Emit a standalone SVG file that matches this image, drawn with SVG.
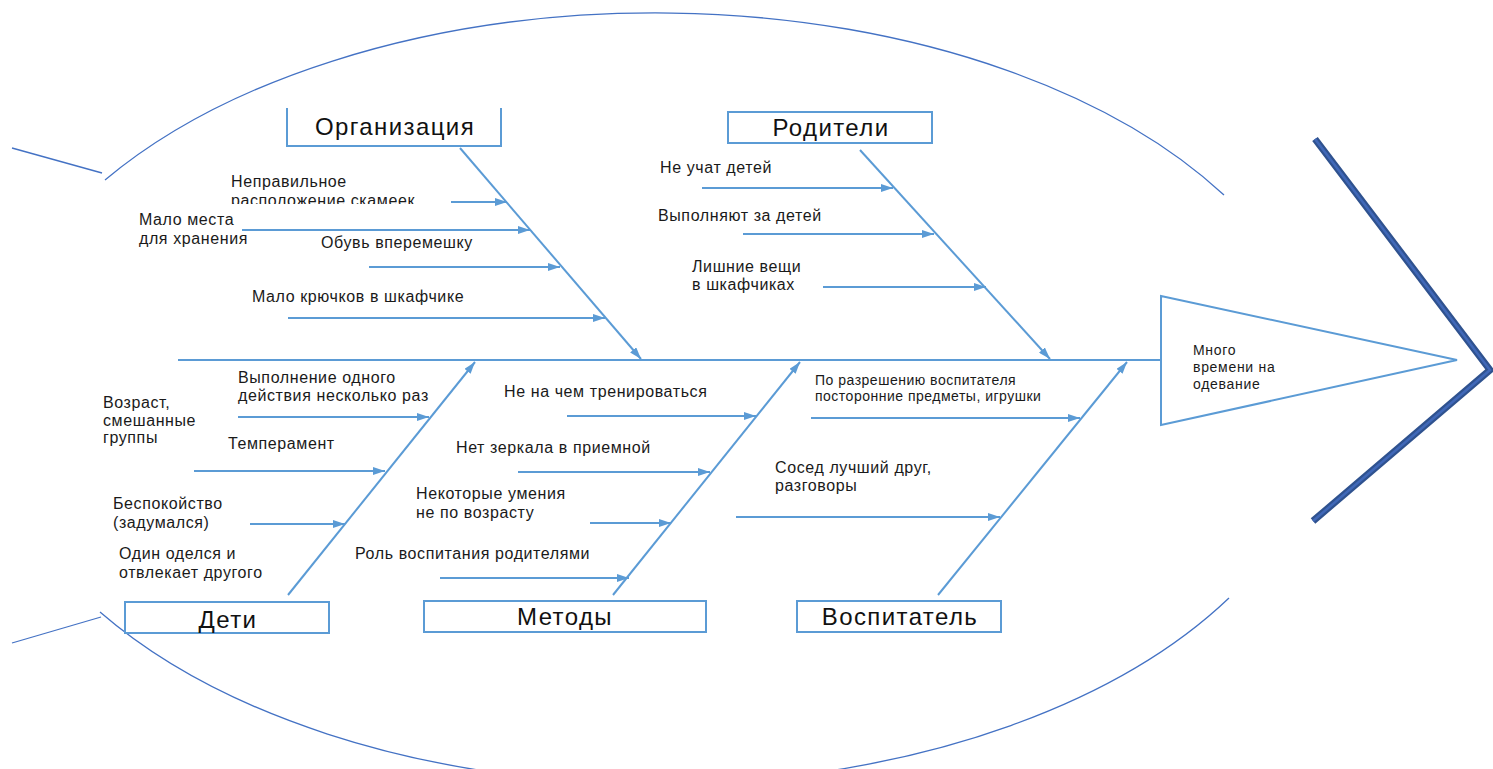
<svg xmlns="http://www.w3.org/2000/svg" width="1493" height="769" viewBox="0 0 1493 769">
<style>
.t{font-family:"Liberation Sans",Arial,sans-serif;font-size:16px;fill:#1a1a1a;letter-spacing:0.6px}
.s{font-size:14px;letter-spacing:0.5px}
.h{font-size:14px;letter-spacing:0.7px}
.c{font-family:"Liberation Sans",Arial,sans-serif;font-size:24px;fill:#111;text-anchor:middle;letter-spacing:1.4px}
.box{fill:#fff;stroke:#5B9BD5;stroke-width:2}
.bone{stroke:#5B9BD5;stroke-width:2;fill:none}
.arr{stroke:#5B9BD5;stroke-width:2;fill:none;marker-end:url(#ah)}
.oval{fill:none;stroke:#4472C4;stroke-width:1.3}
</style>
<defs>
<marker id="ah" viewBox="0 0 12 8" markerWidth="12" markerHeight="8" refX="12" refY="4" orient="auto" markerUnits="userSpaceOnUse">
<path d="M0,0 L12,4 L0,8 z" fill="#5B9BD5"/>
</marker>
<clipPath id="cl1"><rect x="0" y="0" width="700" height="204"/></clipPath>
</defs>

<g id="fish-outline">
<path class="oval" d="M105,180 A669,386 0 0 1 1224,195"/>
<path class="oval" d="M100,612 A669,386 0 0 0 1229,598"/>
<line class="oval" x1="12" y1="148" x2="102" y2="173"/>
<line class="oval" x1="12" y1="643" x2="101" y2="617"/>
</g>

<g id="chevron">
<polyline points="1315,139 1490,370 1313,521" fill="none" stroke="#2F528F" stroke-width="7"/>
<polyline points="1315,139 1490,370 1313,521" fill="none" stroke="#4068B8" stroke-width="2.5"/>
</g>

<g id="connectors">
<line class="bone" x1="178" y1="360" x2="1161" y2="360"/>
<line class="arr" x1="460" y1="148" x2="641" y2="359"/>
<line class="arr" x1="860" y1="150" x2="1050" y2="359"/>
<line class="arr" x1="288" y1="595" x2="475" y2="362"/>
<line class="arr" x1="613" y1="595" x2="800" y2="362"/>
<line class="arr" x1="938" y1="595" x2="1127" y2="362"/>

<line class="arr" x1="451" y1="202" x2="507" y2="202"/>
<line class="arr" x1="242" y1="230" x2="530" y2="230"/>
<line class="arr" x1="369" y1="267" x2="560" y2="267"/>
<line class="arr" x1="288" y1="318" x2="605" y2="318"/>

<line class="arr" x1="702" y1="188" x2="893" y2="188"/>
<line class="arr" x1="743" y1="234" x2="934" y2="234"/>
<line class="arr" x1="823" y1="287" x2="986" y2="287"/>

<line class="arr" x1="238" y1="417" x2="429" y2="417"/>
<line class="arr" x1="194" y1="471" x2="385" y2="471"/>
<line class="arr" x1="250" y1="524" x2="345" y2="524"/>

<line class="arr" x1="567" y1="416" x2="756" y2="416"/>
<line class="arr" x1="518" y1="472" x2="710" y2="472"/>
<line class="arr" x1="590" y1="523" x2="671" y2="523"/>
<line class="arr" x1="440" y1="578" x2="629" y2="578"/>

<line class="arr" x1="811" y1="418" x2="1080" y2="418"/>
<line class="arr" x1="736" y1="517" x2="1000" y2="517"/>
</g>

<g id="head">
<polygon points="1161,296 1457,360 1161,425" fill="#fff" stroke="#5B9BD5" stroke-width="2"/>
<text class="t h" x="1193" y="355">Много</text>
<text class="t h" x="1193" y="372">времени на</text>
<text class="t h" x="1193" y="389">одевание</text>
</g>

<g id="cat-organizaciya">
<path class="box" d="M287,108 V146 H501 V108"/>
<text class="c" x="395" y="135">Организация</text>
</g>
<g id="cat-roditeli">
<rect class="box" x="728" y="112" width="204" height="31"/>
<text class="c" x="831" y="136">Родители</text>
</g>
<g id="cat-deti">
<rect class="box" x="125" y="602" width="204" height="31"/>
<text class="c" x="228" y="628">Дети</text>
</g>
<g id="cat-metody">
<rect class="box" x="424" y="601" width="282" height="31"/>
<text class="c" x="565" y="625">Методы</text>
</g>
<g id="cat-vospitatel">
<rect class="box" x="797" y="601" width="204" height="31"/>
<text class="c" x="900" y="625">Воспитатель</text>
</g>

<g id="causes-organizaciya">
<text class="t" x="231" y="187">Неправильное</text>
<text class="t" x="231" y="206" clip-path="url(#cl1)">расположение скамеек</text>
<text class="t" x="139" y="225">Мало места</text>
<text class="t" x="139" y="244">для хранения</text>
<text class="t" x="321" y="248">Обувь вперемешку</text>
<text class="t" x="252" y="302">Мало крючков в шкафчике</text>
</g>

<g id="causes-roditeli">
<text class="t" x="660" y="173">Не учат детей</text>
<text class="t" x="658" y="221">Выполняют за детей</text>
<text class="t" x="692" y="272">Лишние вещи</text>
<text class="t" x="692" y="290">в шкафчиках</text>
</g>

<g id="causes-deti">
<text class="t" x="238" y="383">Выполнение одного</text>
<text class="t" x="238" y="401">действия несколько раз</text>
<text class="t" x="103" y="408">Возраст,</text>
<text class="t" x="103" y="426">смешанные</text>
<text class="t" x="103" y="443">группы</text>
<text class="t" x="228" y="449">Темперамент</text>
<text class="t" x="113" y="509">Беспокойство</text>
<text class="t" x="113" y="528">(задумался)</text>
<text class="t" x="119" y="559">Один оделся и</text>
<text class="t" x="119" y="578">отвлекает другого</text>
</g>

<g id="causes-metody">
<text class="t" x="504" y="397">Не на чем тренироваться</text>
<text class="t" x="456" y="453">Нет зеркала в приемной</text>
<text class="t" x="416" y="499">Некоторые умения</text>
<text class="t" x="416" y="518">не по возрасту</text>
<text class="t" x="355" y="559">Роль воспитания родителями</text>
</g>

<g id="causes-vospitatel">
<text class="t s" x="815" y="385">По разрешению воспитателя</text>
<text class="t s" x="815" y="401">посторонние предметы, игрушки</text>
<text class="t" x="775" y="473">Сосед лучший друг,</text>
<text class="t" x="775" y="491">разговоры</text>
</g>
</svg>
